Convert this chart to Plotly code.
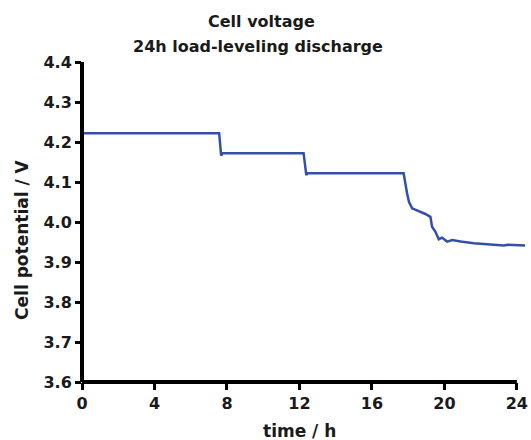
import plotly.graph_objects as go

# Data
time_h = [0, 7.57, 7.68, 7.75, 12.23, 12.38, 12.45, 17.75, 17.94, 18.05, 18.22,
          18.58, 18.95, 19.23, 19.32, 19.5, 19.69, 19.87, 20.15, 20.43, 20.9,
          21.62, 22.4, 23.28, 23.5, 24.48]
voltage = [4.222, 4.222, 4.166, 4.172, 4.172, 4.117, 4.122, 4.122, 4.072, 4.05, 4.034,
           4.028, 4.02, 4.013, 3.988, 3.976, 3.957, 3.961, 3.951, 3.955, 3.951,
           3.947, 3.944, 3.941, 3.943, 3.941]

x_ticks = [0, 4, 8, 12, 16, 20, 24]
y_ticks = [3.6, 3.7, 3.8, 3.9, 4.0, 4.1, 4.2, 4.3, 4.4]
x_range = [0, 24.45]
y_range = [3.6, 4.4]

title_1 = "Cell voltage"
title_2 = "24h load-leveling discharge"
x_title = "time / h"
y_title = "Cell potential / V"

FONT = "DejaVu Sans"
TXT = "#1a1a1a"

fig = go.Figure()
fig.add_trace(go.Scatter(x=time_h, y=voltage, mode="lines",
                         line=dict(color="#3350A8", width=2.5),
                         hoverinfo="skip", showlegend=False))

fig.update_layout(
    width=531, height=440,
    margin=dict(l=82, r=3, t=62, b=58),
    paper_bgcolor="white", plot_bgcolor="white",
    font=dict(family=FONT, size=16, color=TXT, weight="bold"),
    showlegend=False,
    xaxis=dict(range=x_range, tickvals=x_ticks, ticktext=[str(v) for v in x_ticks],
               showgrid=False, zeroline=False, showline=False,
               ticks="outside", ticklen=7, tickwidth=3, tickcolor="black",
               ticklabeloverflow="allow",
               tickfont=dict(family=FONT, size=16, color=TXT, weight="bold")),
    yaxis=dict(range=y_range, tickvals=y_ticks, tickformat=".1f",
               showgrid=False, zeroline=False, showline=False,
               ticks="outside", ticklen=6, tickwidth=3, tickcolor="black",
               tickfont=dict(family=FONT, size=16, color=TXT, weight="bold")),
)

# axis lines
fig.add_shape(type="line", xref="x", yref="paper", x0=x_ticks[0], x1=x_ticks[-1],
              y0=0, y1=0, line=dict(color="black", width=4))
fig.add_shape(type="line", xref="paper", yref="y", x0=0, x1=0,
              y0=y_range[0], y1=y_range[1], line=dict(color="black", width=4))

ann_font = dict(family=FONT, color=TXT, weight="bold")
fig.add_annotation(text=title_1, xref="paper", yref="paper", x=0.405, y=1.128,
                   showarrow=False, xanchor="center", yanchor="middle",
                   font=dict(size=16, **ann_font))
fig.add_annotation(text=title_2, xref="paper", yref="paper", x=0.398, y=1.047,
                   showarrow=False, xanchor="center", yanchor="middle",
                   font=dict(size=16, **ann_font))
fig.add_annotation(text=x_title, xref="paper", yref="paper", x=0.49, y=-0.153,
                   showarrow=False, xanchor="center", yanchor="middle",
                   font=dict(size=17, **ann_font))
fig.add_annotation(text=y_title, xref="paper", yref="paper", x=-0.1355, y=0.444,
                   showarrow=False, xanchor="center", yanchor="middle", textangle=-90,
                   font=dict(size=17, **ann_font))

fig.write_html("out.html", config={"displayModeBar": False},
               post_script="document.body.style.margin='0';document.body.style.overflow='hidden';")
